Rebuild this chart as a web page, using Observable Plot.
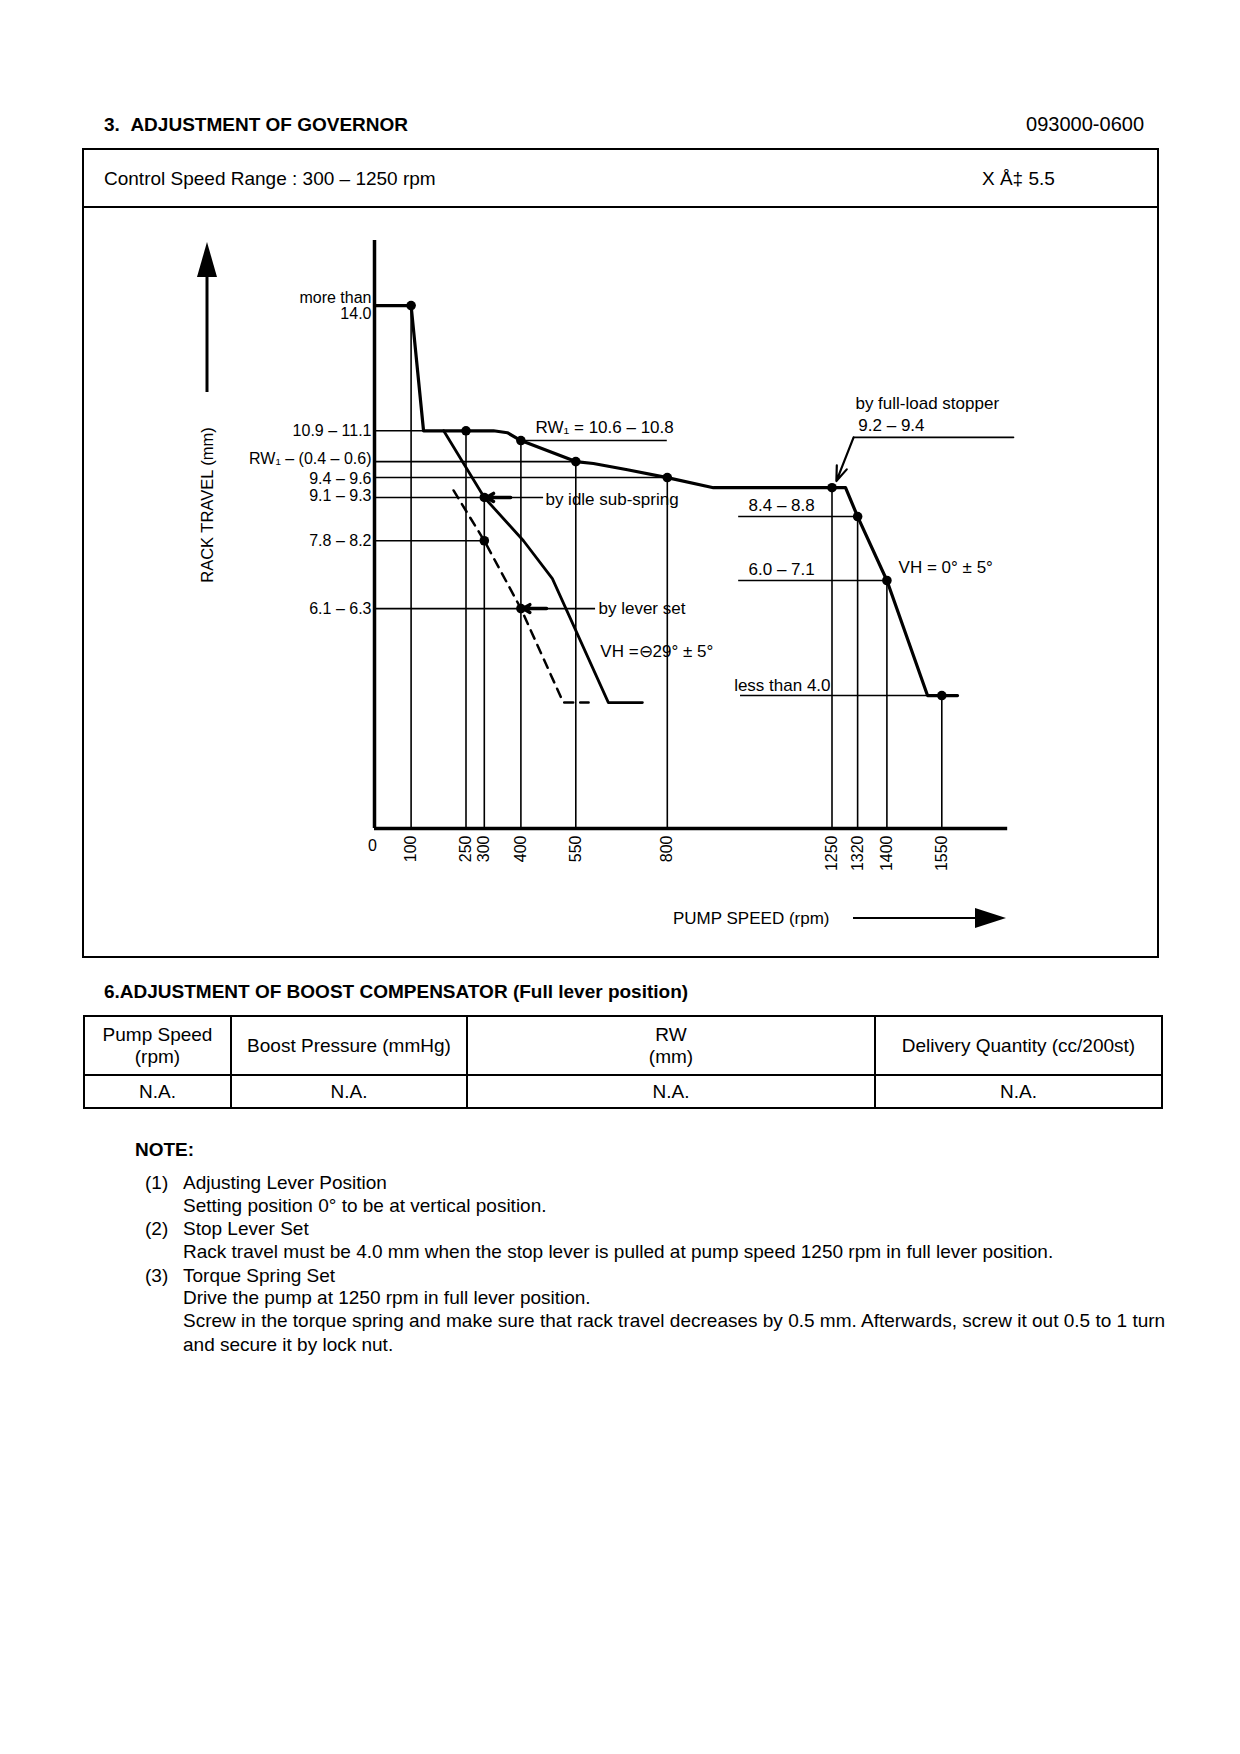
<!DOCTYPE html>
<html><head><meta charset="utf-8">
<script src="https://cdn.jsdelivr.net/npm/d3@7"></script>
<script src="https://cdn.jsdelivr.net/npm/@observablehq/plot@0.6"></script>
<style>
body{margin:0;background:#fff;}
#page{position:relative;width:1240px;height:1754px;background:#fff;color:#000;font-family:"Liberation Sans",Arial,Helvetica,sans-serif;overflow:hidden;}
.t{position:absolute;white-space:nowrap;font-size:19px;line-height:19px;}
.b{font-weight:bold;}
#box{position:absolute;left:82px;top:148px;width:1077px;height:810px;border:2px solid #000;box-sizing:border-box;}
#sep{position:absolute;left:82px;top:206px;width:1077px;height:2px;background:#000;}
#chart{position:absolute;left:83px;top:207px;}
table{position:absolute;left:83px;top:1015px;border-collapse:collapse;table-layout:fixed;font-size:19px;}
td{border:2px solid #000;text-align:center;vertical-align:middle;padding:0;line-height:22px;}
#deco{position:absolute;left:0;top:0;pointer-events:none;}
</style></head>
<body><div id="page">
<div class="t b" style="left:104px;top:115px;">3.&nbsp;&nbsp;ADJUSTMENT OF GOVERNOR</div>
<div class="t" style="right:96px;top:114px;font-size:20px;line-height:20px;">093000-0600</div>
<div id="box"></div><div id="sep"></div>
<div class="t" style="left:104px;top:168.5px;">Control Speed Range : 300 – 1250 rpm</div>
<div class="t" style="left:982px;top:168.5px;">X Å‡ 5.5</div>
<div id="chart"></div>
<div class="t" style="left:207px;top:505px;font-size:16.5px;line-height:16.5px;transform:translate(-50%,-50%) rotate(-90deg);">RACK TRAVEL (mm)</div>
<div class="t" style="left:673px;top:909.7px;font-size:17px;line-height:17px;">PUMP SPEED (rpm)</div>
<svg id="deco" width="1240" height="1754">
  <line x1="207" y1="392" x2="207" y2="270" stroke="#000" stroke-width="3"/>
  <polygon points="207,242 197,277 217,277" fill="#000"/>
  <line x1="853" y1="918" x2="980" y2="918" stroke="#000" stroke-width="2"/>
  <polygon points="1006,918 975,908 975,928" fill="#000"/>
</svg>
<div class="t b" style="left:104px;top:981.7px;">6.ADJUSTMENT OF BOOST COMPENSATOR (Full lever position)</div>
<table>
<colgroup><col style="width:147px"><col style="width:236px"><col style="width:408px"><col style="width:287px"></colgroup>
<tr style="height:59px"><td>Pump Speed<br>(rpm)</td><td>Boost Pressure (mmHg)</td><td>RW<br>(mm)</td><td>Delivery Quantity (cc/200st)</td></tr>
<tr style="height:33px"><td>N.A.</td><td>N.A.</td><td>N.A.</td><td>N.A.</td></tr>
</table>
<div class="t b" style="left:135px;top:1139.7px;">NOTE:</div>
<div class="t" style="left:145px;top:1172.7px;">(1)</div>
<div class="t" style="left:183px;top:1172.7px;">Adjusting Lever Position</div>
<div class="t" style="left:183px;top:1195.7px;">Setting position 0° to be at vertical position.</div>
<div class="t" style="left:145px;top:1218.7px;">(2)</div>
<div class="t" style="left:183px;top:1218.7px;">Stop Lever Set</div>
<div class="t" style="left:183px;top:1241.7px;">Rack travel must be 4.0 mm when the stop lever is pulled at pump speed 1250 rpm in full lever position.</div>
<div class="t" style="left:145px;top:1265.7px;">(3)</div>
<div class="t" style="left:183px;top:1265.7px;">Torque Spring Set</div>
<div class="t" style="left:183px;top:1287.7px;">Drive the pump at 1250 rpm in full lever position.</div>
<div class="t" style="left:183px;top:1310.7px;">Screw in the torque spring and make sure that rack travel decreases by 0.5 mm. Afterwards, screw it out 0.5 to 1 turn</div>
<div class="t" style="left:183px;top:1334.7px;">and secure it by lock nut.</div>
</div>
<script>
// ---- data (pump speed in rpm, rack travel in mm) ----
const speedTicks = [100, 250, 300, 400, 550, 800, 1250, 1320, 1400, 1550];
const speedTickTop = [14.0, 10.79, 9.08, 10.54, 10.0, 9.59, 9.33, 8.59, 6.95, 4.0];

// full-load characteristic (solid, thick)
const fullRpm = [0, 100, 134, 250, 325, 363, 400, 550, 598, 691, 800, 926, 1250, 1287, 1320, 1400, 1511, 1550, 1593];
const fullMm  = [14.0, 14.0, 10.79, 10.79, 10.79, 10.74, 10.54, 10.0, 9.95, 9.79, 9.59, 9.33, 9.33, 9.33, 8.59, 6.95, 4.0, 4.0, 4.0];
// VH = -29° characteristic (solid)
const idleRpm = [189, 300, 407, 486, 639, 732];
const idleMm  = [10.79, 9.08, 7.97, 7.0, 3.82, 3.82];
// lever-set characteristic (dashed)
const dashRpm = [216, 300, 400, 516, 585];
const dashMm  = [9.26, 7.97, 6.23, 3.82, 3.82];
// check points
const checkRpm = [100, 250, 400, 550, 800, 300, 300, 400, 1250, 1320, 1400, 1550];
const checkMm  = [14.0, 10.79, 10.54, 10.0, 9.59, 9.08, 7.97, 6.23, 9.33, 8.59, 6.95, 4.0];

// left-hand level labels
const leftLevels = [14.0, 10.79, 10.0, 9.59, 9.08, 7.97, 6.23];
const leftLabels = ["more than\n14.0", "10.9 – 11.1", "RW\u2081 – (0.4 – 0.6)", "9.4 – 9.6", "9.1 – 9.3", "7.8 – 8.2", "6.1 – 6.3"];
const leftLabelMm = [14.0, 10.79, 10.06, 9.56, 9.12, 7.97, 6.23];
const leftGuideEnd = [100, 134, 550, 800, 462, 300, 604];

// right-hand level guides
const rightLevels = [8.59, 6.95, 4.0];
const rightGuideStart = [995, 995, 1000];
const rightGuideEnd = [1320, 1400, 1550];

// RW1 reference line
const rw1Rpm = [400, 800];
const rw1Mm = 10.54;

// full-load stopper leader
const stopperRpm = [1746, 1309];
const stopperMm = [10.62, 10.62];
const stopperTip = {rpm: 1262, mm: 9.5};

// annotations, left-anchored
const noteText = ["RW\u2081 = 10.6 – 10.8", "by idle sub-spring", "by lever set", "VH =\u229629° ± 5°", "8.4 – 8.8", "6.0 – 7.1", "VH = 0° ± 5°", "by full-load stopper", "9.2 – 9.4"];
const noteRpm  = [440, 467, 612, 617, 1022, 1022, 1432, 1314, 1322];
const noteMm   = [10.87, 9.02, 6.23, 5.13, 8.87, 7.23, 7.28, 11.49, 10.92];
// annotation, right-anchored
const endText = ["less than 4.0"];
const endRpm = [1246];
const endMm = [4.26];

// ---- build ----
const yMin = 0.59, yMax = 15.67, xAxisEnd = 1730;
const pts = (xs, ys) => xs.map((x, i) => ({x, y: ys[i]}));
const font = '"Liberation Sans", Arial, Helvetica, sans-serif';

const chart = Plot.plot({
  width: 1075, height: 750,
  marginLeft: 291, marginRight: 143.5, marginTop: 33, marginBottom: 129,
  x: {domain: [0, 1750], ticks: speedTicks, tickFormat: d => String(d), tickRotate: -90, tickSize: 0, tickPadding: 7, label: null},
  y: {domain: [yMin, yMax], axis: null},
  style: {fontFamily: font, fontSize: "16px", background: "transparent", color: "#000", overflow: "visible"},
  marks: [
    Plot.ruleX(speedTicks, {x: d => d, y1: yMin, y2: (d, i) => speedTickTop[i], stroke: "#000", strokeWidth: 1.6}),
    Plot.ruleY(leftLevels, {y: d => d, x1: 0, x2: (d, i) => leftGuideEnd[i], stroke: "#000", strokeWidth: 1.6}),
    Plot.ruleY(rightLevels, {y: d => d, x1: (d, i) => rightGuideStart[i], x2: (d, i) => rightGuideEnd[i], stroke: "#000", strokeWidth: 1.6}),
    Plot.ruleY([rw1Mm], {y: d => d, x1: rw1Rpm[0], x2: rw1Rpm[1], stroke: "#000", strokeWidth: 1.6}),
    Plot.line(pts(stopperRpm, stopperMm), {x: "x", y: "y", stroke: "#000", strokeWidth: 1.6}),
    Plot.arrow([0], {x1: stopperRpm[1], y1: stopperMm[1], x2: stopperTip.rpm, y2: stopperTip.mm, stroke: "#000", strokeWidth: 2.2, headLength: 12, headAngle: 40}),
    Plot.line(pts(dashRpm, dashMm), {x: "x", y: "y", stroke: "#000", strokeWidth: 2.5, strokeDasharray: "9,7"}),
    Plot.line(pts(idleRpm, idleMm), {x: "x", y: "y", stroke: "#000", strokeWidth: 2.8}),
    Plot.line(pts(fullRpm, fullMm), {x: "x", y: "y", stroke: "#000", strokeWidth: 3.2}),
    Plot.arrow([0], {x1: 372, y1: 9.08, x2: 306, y2: 9.08, stroke: "#000", strokeWidth: 3.5, headLength: 8}),
    Plot.arrow([0], {x1: 470, y1: 6.23, x2: 406, y2: 6.23, stroke: "#000", strokeWidth: 3.5, headLength: 8}),
    Plot.dot(pts(checkRpm, checkMm), {x: "x", y: "y", r: 4.8, fill: "#000"}),
    Plot.ruleX([0], {x: d => d, y1: yMin, y2: yMax, stroke: "#000", strokeWidth: 3.5}),
    Plot.ruleY([yMin], {y: d => d, x1: 0, x2: xAxisEnd, stroke: "#000", strokeWidth: 3.5}),
    Plot.text(leftLabels, {x: 0, y: (d, i) => leftLabelMm[i], text: d => d, textAnchor: "end", dx: -3, fontSize: 16, lineHeight: 1}),
    Plot.text(noteText, {x: (d, i) => noteRpm[i], y: (d, i) => noteMm[i], text: d => d, textAnchor: "start", fontSize: 17}),
    Plot.text(endText, {x: (d, i) => endRpm[i], y: (d, i) => endMm[i], text: d => d, textAnchor: "end", fontSize: 17}),
    Plot.text([0], {x: d => d, y: yMin, text: d => String(d), dy: 17, dx: -2, fontSize: 16})
  ]
});
document.getElementById("chart").appendChild(chart);
</script>
</body></html>
